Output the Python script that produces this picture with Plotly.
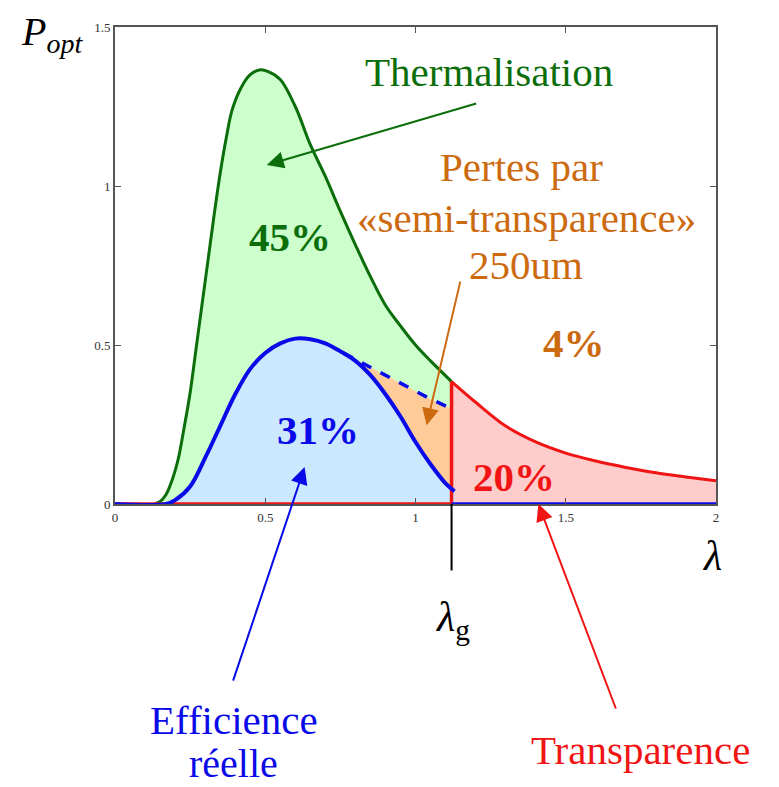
import numpy as np
import plotly.graph_objects as go

# ---- data ----
lam_g = 1.12

lam_green = [0.13, 0.15, 0.17, 0.19, 0.21, 0.23, 0.25, 0.27, 0.29, 0.31, 0.33, 0.35, 0.37, 0.39,
             0.42, 0.45, 0.48, 0.51, 0.55, 0.60, 0.65, 0.70, 0.75, 0.80, 0.85, 0.90, 0.95, 1.00,
             1.05, 1.12]
p_green = [0.0, 0.008, 0.03, 0.075, 0.14, 0.24, 0.35, 0.49, 0.63, 0.77, 0.91, 1.04, 1.15, 1.24,
           1.31, 1.35, 1.365, 1.36, 1.335, 1.25, 1.13, 1.03, 0.92, 0.815, 0.715, 0.625, 0.56, 0.50,
           0.45, 0.385]

lam_blue = [0.0, 0.17, 0.20, 0.25, 0.30, 0.35, 0.40, 0.45, 0.50, 0.55, 0.60, 0.65, 0.70, 0.75,
            0.80, 0.85, 0.90, 0.95, 1.00, 1.05, 1.10, 1.13]
p_blue = [0.0, 0.0, 0.012, 0.055, 0.145, 0.245, 0.345, 0.425, 0.475, 0.505, 0.52, 0.518, 0.505,
          0.48, 0.45, 0.405, 0.345, 0.275, 0.195, 0.125, 0.065, 0.04]

lam_dash = [0.76, 0.85, 0.95, 1.05, 1.12]
p_dash = [0.475, 0.43, 0.38, 0.33, 0.30]

lam_red = [1.12, 1.20, 1.30, 1.40, 1.50, 1.60, 1.70, 1.80, 1.90, 2.00]
p_red = [0.385, 0.32, 0.245, 0.195, 0.16, 0.135, 0.115, 0.098, 0.085, 0.073]

x_ticks = [0, 0.5, 1, 1.5, 2]
x_ticktext = ["0", "0.5", "1", "1.5", "2"]
y_ticks = [0, 0.5, 1, 1.5]
y_ticktext = ["0", "0.5", "1", "1.5"]

# ---- colours ----
GREEN = "#0b6e0b"
GREEN_FILL = "#ccffcc"
BLUE = "#0a0ae8"
BLUE_FILL = "#cce8ff"
ORANGE = "#cc6a10"
ORANGE_FILL = "#ffcc99"
RED = "#f01414"
RED_FILL = "#ffcccc"
SERIF = "Liberation Serif"

fig = go.Figure()

# green (thermalisation) fill + line
fig.add_trace(go.Scatter(x=lam_green, y=p_green, mode="lines", fill="tozeroy",
                         fillcolor=GREEN_FILL, line=dict(color=GREEN, width=3, shape="spline"),
                         hoverinfo="skip", showlegend=False))
# red (transparence) fill + curve
fig.add_trace(go.Scatter(x=lam_red, y=p_red, mode="lines", fill="tozeroy",
                         fillcolor=RED_FILL, line=dict(color=RED, width=3, shape="spline"),
                         hoverinfo="skip", showlegend=False))
# blue (efficiency) fill only
fig.add_trace(go.Scatter(x=lam_blue, y=p_blue, mode="lines", fill="tozeroy",
                         fillcolor=BLUE_FILL, line=dict(color=BLUE_FILL, width=0, shape="spline"),
                         hoverinfo="skip", showlegend=False))
# orange (semi-transparence) polygon between dashed and solid blue
sel = [(l, p) for l, p in zip(lam_blue, p_blue) if lam_dash[0] <= l < lam_g]
p_blue_at_g = float(np.interp(lam_g, lam_blue, p_blue))
ox = list(lam_dash) + [lam_g] + [l for l, _ in reversed(sel)]
oy = list(p_dash) + [p_blue_at_g] + [p for _, p in reversed(sel)]
fig.add_trace(go.Scatter(x=ox, y=oy, mode="lines", fill="toself", fillcolor=ORANGE_FILL,
                         line=dict(width=0, color=ORANGE_FILL), hoverinfo="skip", showlegend=False))
# red zero segment + vertical at lambda_g
fig.add_trace(go.Scatter(x=[0, lam_red[0], lam_red[0]], y=[0, 0, p_red[0]], mode="lines",
                         line=dict(color=RED, width=3.5), hoverinfo="skip", showlegend=False))
# blue solid line
fig.add_trace(go.Scatter(x=lam_blue, y=p_blue, mode="lines",
                         line=dict(color=BLUE, width=4, shape="spline"),
                         hoverinfo="skip", showlegend=False))
# blue dashed line
fig.add_trace(go.Scatter(x=lam_dash, y=p_dash, mode="lines",
                         line=dict(color=BLUE, width=3.5, dash="dash"),
                         hoverinfo="skip", showlegend=False))
# blue zero segment beyond lambda_g
fig.add_trace(go.Scatter(x=[lam_g, x_ticks[-1]], y=[0, 0], mode="lines",
                         line=dict(color=BLUE, width=3.5), hoverinfo="skip", showlegend=False))

ann = []

def txt(x, y, s, color, size=41, bold=False, ref="data", xanchor="center"):
    if bold:
        s = "<b>" + s + "</b>"
    d = dict(x=x, y=y, text=s, showarrow=False, xanchor=xanchor, yanchor="middle",
             font=dict(family=SERIF, size=size, color=color), borderpad=0)
    if ref == "paper":
        d.update(xref="paper", yref="paper")
    else:
        d.update(xref="x", yref="y")
    ann.append(d)

def arrow(x, y, ax, ay, color, head=2, width=2, size=1.7):
    ann.append(dict(x=x, y=y, xref="x", yref="y", ax=ax, ay=ay, text="", showarrow=True,
                    arrowhead=head, arrowsize=size, arrowwidth=width, arrowcolor=color,
                    standoff=0, startstandoff=0))

# in-plot labels
txt(1.246, 1.358, "Thermalisation", GREEN)
txt(1.352, 1.06, "Pertes par", ORANGE)
txt(1.369, 0.899, "«semi-transparence»", ORANGE)
txt(1.369, 0.752, "250um", ORANGE)
txt(1.528, 0.506, "4%", ORANGE, bold=True)
txt(0.581, 0.84, "45%", GREEN, bold=True)
txt(0.674, 0.233, "31%", BLUE, bold=True)
txt(1.329, 0.085, "20%", RED, bold=True)

# outside labels
txt(0.198, -0.453, "Efficience", BLUE, ref="paper")
txt(0.198, -0.545, "réelle", BLUE, size=40, ref="paper")
txt(0.874, -0.516, "Transparence", RED, ref="paper")
txt(0.993, -0.109, "<i>λ</i>", "black", size=42, ref="paper")
txt(0.561, -0.243, "<i>λ</i><sub>g</sub>", "black", size=42, ref="paper")
txt(-0.158, 0.985, "<i>P</i><sub><i>opt</i></sub>", "black", size=40, ref="paper", xanchor="left")

# arrows
arrow(0.505, 1.066, 211, -62, GREEN)
arrow(1.037, 0.248, 34, -145, ORANGE)
arrow(0.631, 0.116, -72, 215, BLUE)
arrow(1.409, 0.0, 78, 206, RED)
# lambda_g marker line below axis
arrow(lam_g, 0.0, 0, 68, "black", head=0, width=2)

axis_common = dict(showgrid=False, zeroline=False, showline=True, linecolor="#555555",
                   linewidth=2, mirror="ticks", ticks="inside", ticklen=6, tickwidth=1,
                   tickcolor="#555555",
                   tickfont=dict(family=SERIF, size=13, color="#333333"))

# the page body adds an 8px offset; the figure is sized to fit the window
fig.update_layout(
    width=771, height=779,
    margin=dict(l=107, r=63, t=19, b=283),
    paper_bgcolor="white", plot_bgcolor="white",
    xaxis=dict(range=[0, 2], tickvals=x_ticks, ticktext=x_ticktext, **axis_common),
    yaxis=dict(range=[0, 1.5], tickvals=y_ticks, ticktext=y_ticktext, **axis_common),
    annotations=ann,
    showlegend=False,
)

fig.write_html("out.html")
